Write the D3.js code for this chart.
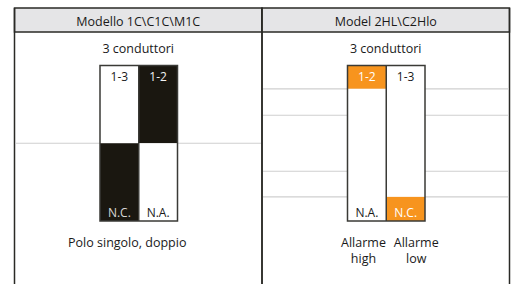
<!DOCTYPE html>
<html lang="it">
<head>
<meta charset="UTF-8">
<title>Contatti allarme</title>
<script src="https://d3js.org/d3.v7.min.js"></script>
<style>
  body { margin: 0; background: #fff; }
  svg { display: block; font-family: "Open Sans", "Noto Sans", sans-serif; }
</style>
</head>
<body>
<div id="chart"></div>
<script>
// titoli dei pannelli
const panelTitles = ["Modello 1C\\C1C\\M1C", "Model 2HL\\C2Hlo"];
const subTitles = ["3 conduttori", "3 conduttori"];
// colonne di ogni barra (etichetta in alto / in basso)
const topLabels = [["1-3", "1-2"], ["1-2", "1-3"]];
const bottomLabels = [["N.C.", "N.A."], ["N.A.", "N.C."]];
// segmenti [inizio, fine, colore] in % dell'altezza, per colonna
const segments = [
  [[[0, 50, "w"], [50, 100, "k"]], [[0, 50, "k"], [50, 100, "w"]]],
  [[[0, 15, "o"], [15, 100, "w"]], [[0, 84.5, "w"], [84.5, 100, "o"]]]
];
// linee grigie orizzontali in % dell'altezza
const gridLines = [[50], [15, 32, 68, 84.5]];
// didascalie sotto
const captions = [[["Polo singolo, doppio"]], [["Allarme", "high"], ["Allarme", "low"]]];

const W = 515, H = 284;
const colors = { w: "#ffffff", k: "#1a1710", o: "#f7941e" };
const textColors = { w: "#1a1a1a", k: "#f2f2f2", o: "#ffffff" };

const svg = d3.select("#chart").append("svg").attr("width", W).attr("height", H);

const panelX = d3.scaleBand().domain([0, 1]).range([14.5, 509.5]).padding(0);
const y = d3.scaleLinear().domain([0, 100]).range([65.5, 221]);

panelTitles.forEach((title, p) => {
  const x0 = panelX(p), pw = panelX.bandwidth();
  const cx = x0 + pw / 2;
  const g = svg.append("g");

  // header
  g.append("rect").attr("x", x0).attr("y", 8).attr("width", pw).attr("height", 24)
    .attr("fill", "#e5e5e7").attr("stroke", "#2a2a26").attr("stroke-width", 1.5);
  g.append("text").attr("x", cx).attr("y", 26).attr("text-anchor", "middle")
    .attr("font-size", 12.5).attr("fill", "#1a1a1a").text(title);

  // bordi verticali
  g.append("line").attr("x1", x0).attr("x2", x0).attr("y1", 8).attr("y2", H)
    .attr("stroke", "#2a2a26").attr("stroke-width", 1.5);
  g.append("line").attr("x1", x0 + pw).attr("x2", x0 + pw).attr("y1", 8).attr("y2", H)
    .attr("stroke", "#2a2a26").attr("stroke-width", 1.5);

  g.append("text").attr("x", cx).attr("y", 53).attr("text-anchor", "middle")
    .attr("font-size", 12.5).attr("fill", "#1a1a1a").text(subTitles[p]);

  // linee grigie
  g.selectAll("line.grid").data(gridLines[p]).join("line").attr("class", "grid")
    .attr("x1", x0 + 1).attr("x2", x0 + pw - 1)
    .attr("y1", d => y(d)).attr("y2", d => y(d))
    .attr("stroke", "#cfcfcf").attr("stroke-width", 1.2);

  const barLeft = p === 0 ? 100 : 347.5;
  const colX = d3.scaleBand().domain([0, 1]).range([barLeft, barLeft + 77.5]);

  segments[p].forEach((col, c) => {
    g.selectAll(null).data(col).join("rect")
      .attr("x", colX(c)).attr("width", colX.bandwidth())
      .attr("y", d => y(d[0])).attr("height", d => y(d[1]) - y(d[0]))
      .attr("fill", d => colors[d[2]]);
    const first = col[0][2], last = col[col.length - 1][2];
    g.append("text").attr("x", colX(c) + colX.bandwidth() / 2).attr("y", y(0) + 15.5)
      .attr("text-anchor", "middle").attr("font-size", 12)
      .attr("fill", textColors[first]).text(topLabels[p][c]);
    g.append("text").attr("x", colX(c) + colX.bandwidth() / 2).attr("y", y(100) - 4)
      .attr("text-anchor", "middle").attr("font-size", 12)
      .attr("fill", last === "k" ? "#d8d8d8" : textColors[last]).text(bottomLabels[p][c]);
  });

  // contorni barra
  g.append("rect").attr("x", colX(0)).attr("y", y(0))
    .attr("width", colX.bandwidth() * 2).attr("height", y(100) - y(0))
    .attr("fill", "none").attr("stroke", "#3a3a36").attr("stroke-width", 1.5);
  g.append("line").attr("x1", colX(1)).attr("x2", colX(1)).attr("y1", y(0)).attr("y2", y(100))
    .attr("stroke", "#3a3a36").attr("stroke-width", 1.5);

  // didascalie
  const capX = captions[p].length === 1 ? [cx - 11] : [colX(0) + 16, colX(1) + 30];
  captions[p].forEach((lines, i) => {
    const t = g.append("text").attr("x", capX[i]).attr("y", 246.5)
      .attr("text-anchor", "middle").attr("font-size", 12.5).attr("fill", "#1a1a1a");
    lines.forEach((l, j) => t.append("tspan").attr("x", capX[i]).attr("dy", j ? 16 : 0).text(l));
  });
});
</script>
</body>
</html>
